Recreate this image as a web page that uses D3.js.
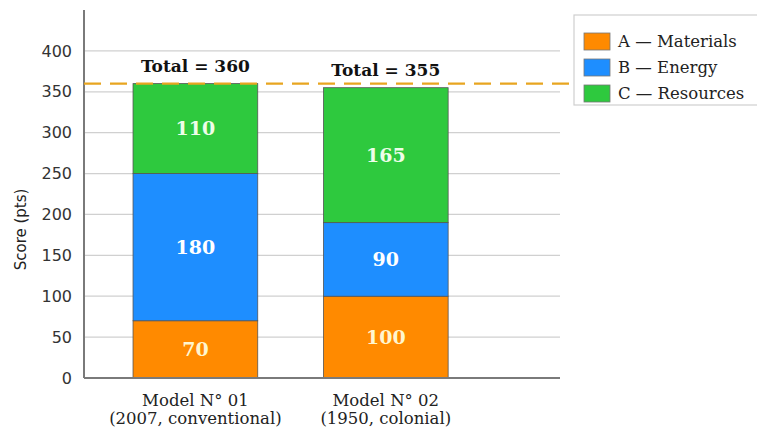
<!DOCTYPE html>
<html>
<head>
<meta charset="utf-8">
<script src="https://cdn.jsdelivr.net/npm/d3@7"></script>
<style>
  html, body { margin: 0; padding: 0; background: #fff; }
  svg { display: block; }
</style>
</head>
<body>
<svg id="chart" width="757" height="430"></svg>
<script>
// Stacked scores per model
const models = ["Model N° 01", "Model N° 02"];
const modelNotes = ["(2007, conventional)", "(1950, colonial)"];
const seriesNames = ["A — Materials", "B — Energy", "C — Resources"];
const materials = [70, 100];
const energy = [180, 90];
const resources = [110, 165];
const totals = [360, 355];
const referenceLine = 360;
const yTicks = [0, 50, 100, 150, 200, 250, 300, 350, 400];
const colors = ["#ff8a00", "#1e8eff", "#2ec93e"];
const labelColors = ["#fff6cf", "#ffffff", "#eefde9"];

(function draw() {
  const svg = d3.select("#chart");
  const plotL = 84, plotR = 560, plotT = 10, plotB = 378;

  const y = d3.scaleLinear().domain([0, 450]).range([plotB, plotT]);
  const x = d3.scaleLinear().domain([-0.585, 1.915]).range([plotL, plotR]);
  const barW = x(0.655) - x(0);

  // gridlines
  svg.append("g")
    .selectAll("line").data(yTicks.filter(d => d > 0)).join("line")
    .attr("x1", plotL).attr("x2", plotR)
    .attr("y1", d => y(d)).attr("y2", d => y(d))
    .attr("stroke", "#d0d0d0").attr("stroke-width", 1.2);

  // y axis
  const yAxis = d3.axisLeft(y).tickValues(yTicks).tickSize(0).tickPadding(12);
  const gy = svg.append("g").attr("transform", `translate(${plotL},0)`).call(yAxis);
  gy.select(".domain").remove();
  gy.selectAll("text").attr("font-family", "DejaVu Sans").attr("font-size", 16).attr("fill", "#333");

  svg.append("text")
    .attr("transform", `translate(26,${(y(0) + y(400)) / 2 + 15}) rotate(-90)`)
    .attr("text-anchor", "middle")
    .attr("font-family", "DejaVu Sans").attr("font-size", 15).attr("fill", "#222")
    .text("Score (pts)");

  // stacked bars
  const rows = models.map((m, i) => ({ i, A: materials[i], B: energy[i], C: resources[i] }));
  const stack = d3.stack().keys(["A", "B", "C"])(rows);

  stack.forEach((layer, k) => {
    const g = svg.append("g");
    g.selectAll("rect").data(layer).join("rect")
      .attr("x", d => x(d.data.i) - barW / 2)
      .attr("width", barW)
      .attr("y", d => y(d[1]))
      .attr("height", d => y(d[0]) - y(d[1]))
      .attr("fill", colors[k])
      .attr("stroke", "#555").attr("stroke-width", 0.8);
    g.selectAll("text").data(layer).join("text")
      .attr("x", d => x(d.data.i))
      .attr("y", d => (y(d[0]) + y(d[1])) / 2)
      .attr("dy", "0.36em")
      .attr("text-anchor", "middle")
      .attr("font-family", "DejaVu Serif").attr("font-weight", "bold").attr("font-size", 19)
      .attr("fill", labelColors[k])
      .text(d => d[1] - d[0]);
  });

  // axis lines
  svg.append("line").attr("x1", plotL).attr("x2", plotL).attr("y1", plotT).attr("y2", plotB)
    .attr("stroke", "#7a7a7a").attr("stroke-width", 2);
  svg.append("line").attr("x1", plotL).attr("x2", plotR).attr("y1", plotB).attr("y2", plotB)
    .attr("stroke", "#7a7a7a").attr("stroke-width", 2);

  // reference line
  svg.append("line")
    .attr("x1", plotL).attr("x2", 757)
    .attr("y1", y(referenceLine)).attr("y2", y(referenceLine))
    .attr("stroke", "#e8a520").attr("stroke-width", 2.2)
    .attr("stroke-dasharray", "17,9");

  // totals
  svg.append("g").selectAll("text").data(totals).join("text")
    .attr("x", (d, i) => x(i))
    .attr("y", d => y(d) - 12)
    .attr("text-anchor", "middle")
    .attr("font-family", "DejaVu Serif").attr("font-weight", "bold").attr("font-size", 17)
    .attr("fill", "#111")
    .text(d => `Total = ${d}`);

  // x labels
  const xl = svg.append("g");
  models.forEach((m, i) => {
    const t = xl.append("text")
      .attr("x", x(i)).attr("y", 406)
      .attr("text-anchor", "middle")
      .attr("font-family", "DejaVu Serif").attr("font-size", 16.5).attr("fill", "#222");
    t.append("tspan").attr("x", x(i)).text(m);
    t.append("tspan").attr("x", x(i)).attr("dy", 17.5).text(modelNotes[i]);
  });

  // legend
  const lg = svg.append("g").attr("transform", "translate(574,15)");
  lg.append("rect").attr("x", 0).attr("y", 0).attr("width", 190).attr("height", 90)
    .attr("fill", "#fff").attr("stroke", "#cfcfcf").attr("stroke-width", 1.2);
  seriesNames.forEach((s, k) => {
    const yy = 18 + k * 26;
    lg.append("rect").attr("x", 10).attr("y", yy).attr("width", 26).attr("height", 17)
      .attr("fill", colors[k]).attr("stroke", "#777").attr("stroke-width", 0.8);
    lg.append("text").attr("x", 44).attr("y", yy + 8.5).attr("dy", "0.35em")
      .attr("font-family", "DejaVu Serif").attr("font-size", 16.5).attr("fill", "#222")
      .text(s);
  });
})();
</script>
</body>
</html>
